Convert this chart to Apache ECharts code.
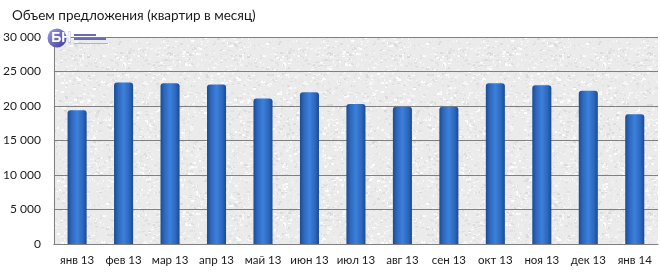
<!DOCTYPE html>
<html><head><meta charset="utf-8">
<script src="https://cdn.jsdelivr.net/npm/echarts@6/dist/echarts.min.js"></script>
<style>html,body{margin:0;padding:0;background:#fff}#c{width:660px;height:272px}</style>
</head><body><div id="c"></div>
<script>
const categories = ['янв 13','фев 13','мар 13','апр 13','май 13','июн 13','июл 13','авг 13','сен 13','окт 13','ноя 13','дек 13','янв 14'];
const offers = [19400, 23400, 23300, 23100, 21100, 22000, 20300, 19900, 19900, 23300, 23000, 22200, 18800];
const yTicks = [0, 5000, 10000, 15000, 20000, 25000, 30000];
const titleText = 'Объем предложения (квартир в месяц)';

// decorative stone-like texture for plot background (deterministic)
function makeTexture(){
  const N = 160;
  const cv = document.createElement('canvas');
  cv.width = N; cv.height = N;
  const ctx = cv.getContext('2d');
  let s = 98765;
  function r(){ s = (s*1103515245 + 12345) & 0x7fffffff; return s/0x7fffffff; }
  ctx.fillStyle = '#ebebeb'; ctx.fillRect(0,0,N,N);
  for(let i=0;i<2800;i++){
    const v = 218 + Math.floor(r()*37);
    ctx.fillStyle = 'rgb('+v+','+v+','+v+')';
    const w = 1 + Math.floor(r()*3), h = 1 + Math.floor(r()*2);
    ctx.fillRect(Math.floor(r()*N), Math.floor(r()*N), w, h);
  }
  return cv;
}

const chart = echarts.init(document.getElementById('c'), null, {renderer:'canvas'});
const fmt = v => String(v).replace(/\B(?=(\d{3})+(?!\d))/g, ' ');
const font = 'Lato';
chart.setOption({
  animation:false,
  backgroundColor:'#ffffff',
  title:{text:titleText, left:7, top:4, textStyle:{fontFamily:font, fontSize:13.5, fontWeight:'normal', color:'#1a1a1a'}},
  grid:{left:52, right:2, top:37, bottom:28, show:true, backgroundColor:{image:makeTexture(), repeat:'repeat'}, borderWidth:0},
  xAxis:{type:'category', data:categories,
    axisLine:{lineStyle:{color:'#808080'}}, axisTick:{show:false},
    axisLabel:{fontFamily:font, fontSize:11.5, color:'#1a1a1a', margin:10, interval:0}},
  yAxis:{type:'value', min:yTicks[0], max:yTicks[yTicks.length-1], interval:yTicks[1]-yTicks[0],
    axisLine:{show:true, lineStyle:{color:'#808080'}}, axisTick:{show:false},
    splitLine:{lineStyle:{color:'#808080', width:1}},
    axisLabel:{fontFamily:font, fontSize:12, color:'#1a1a1a', margin:13, formatter:fmt}},
  series:[{type:'bar', data:offers, barWidth:'41%',
    itemStyle:{borderRadius:[3,3,0,0],
      color:new echarts.graphic.LinearGradient(0,0,1,0,[
        {offset:0,color:'#1b4a90'},{offset:0.2,color:'#2c67bd'},{offset:0.5,color:'#3d80da'},{offset:0.8,color:'#2c67bd'},{offset:1,color:'#1b4a90'}])}
  }],
  graphic:[
    {type:'circle', shape:{cx:57, cy:38, r:9.5}, style:{fill:new echarts.graphic.LinearGradient(0,0,1,1,[{offset:0,color:'#a0a0e4'},{offset:1,color:'#3a3a9a'}])}, z:100},
    {type:'text', left:51, top:31, style:{text:'БН', fill:'#ffffff', font:'bold 14px Arial', stroke:'#7070c0', lineWidth:0.5}, z:101},
    {type:'rect', shape:{x:74, y:34, width:22, height:2}, style:{fill:'#6a6ab0'}, z:100},
    {type:'rect', shape:{x:74, y:38, width:32, height:2}, style:{fill:'#6a6ab0'}, z:100},
    {type:'rect', shape:{x:74, y:43, width:34, height:1}, style:{fill:'#b0b0d0'}, z:100}
  ]
});
</script></body></html>
